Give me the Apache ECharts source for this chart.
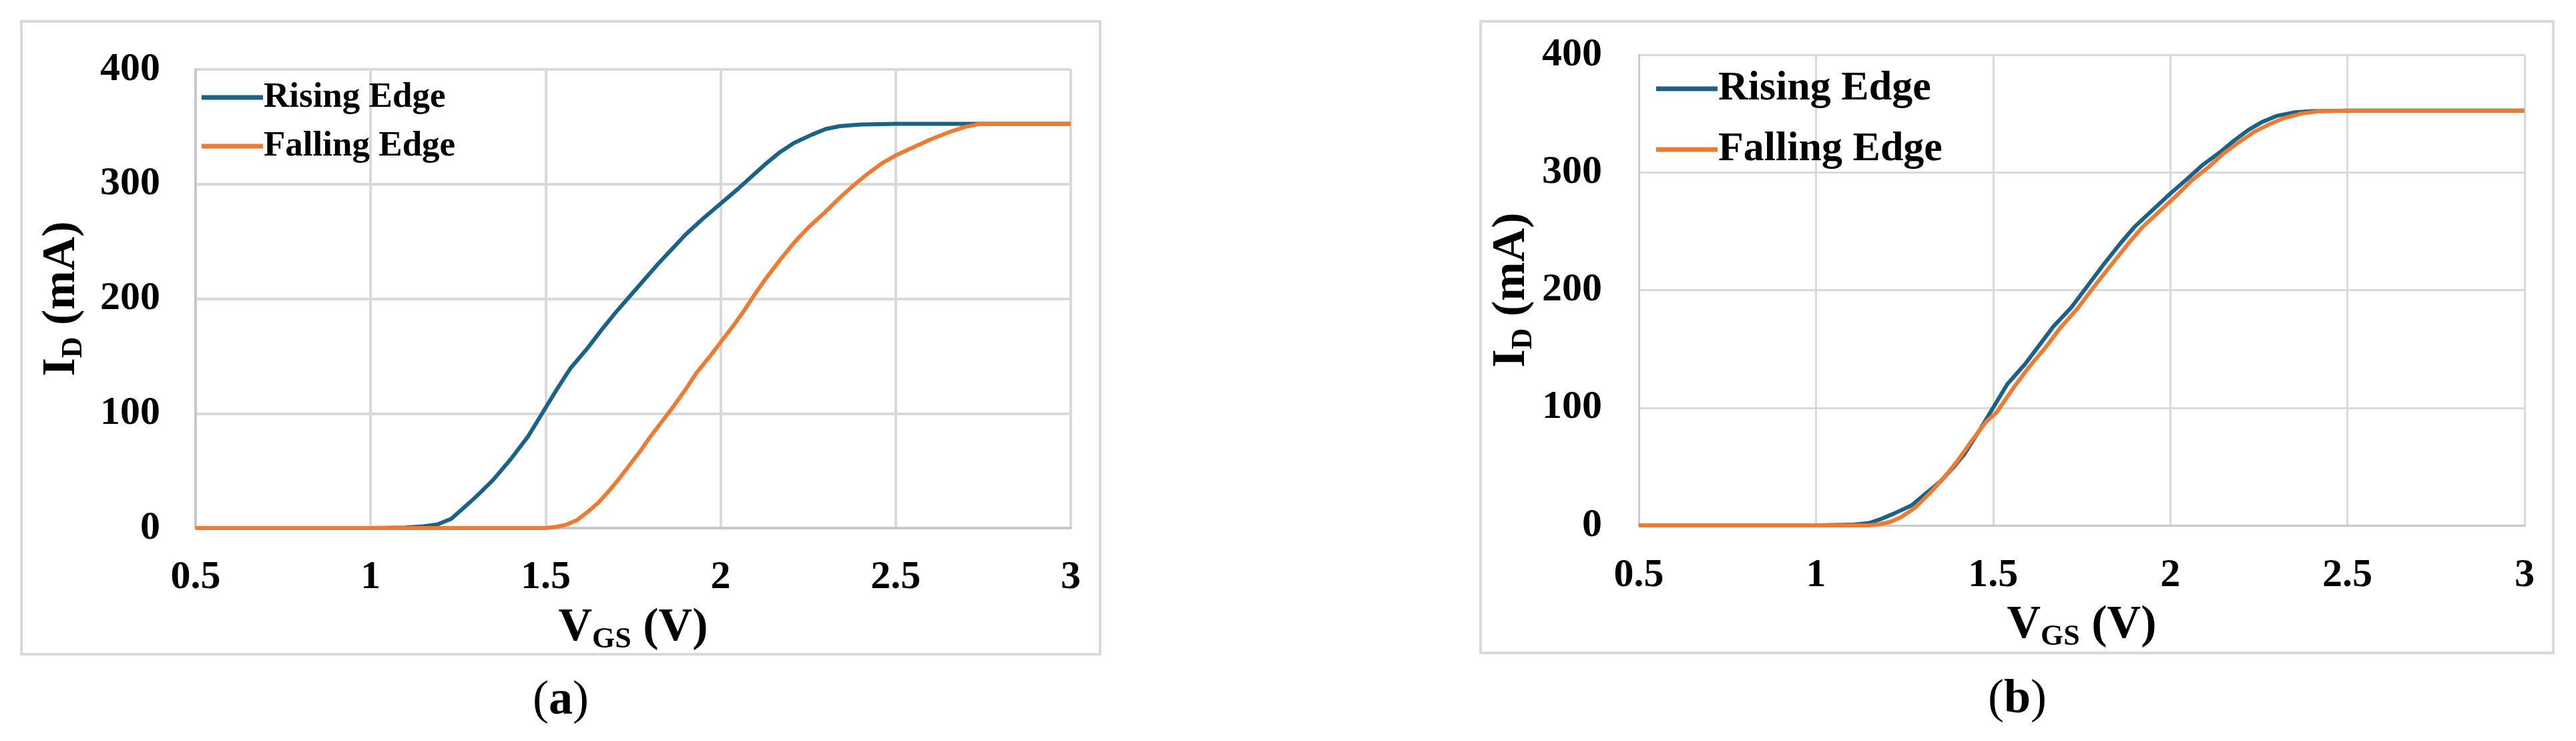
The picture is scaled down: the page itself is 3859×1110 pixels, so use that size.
<!DOCTYPE html>
<html>
<head>
<meta charset="utf-8">
<title>ID - VGS</title>
<script src="https://cdn.jsdelivr.net/npm/echarts@6/dist/echarts.min.js"></script>
<style>
html, body {margin: 0; padding: 0; background: #fff;}
#main {width: 3859px; height: 1110px;}
</style>
</head>
<body>
<div id="main"></div>
<script>
var seriesNames = ['Rising Edge', 'Falling Edge'];
var panelLabels = ['a', 'b'];

// (a) [VGS (V), ID (mA)]
var risingA = [[0.5,0],[0.8,0],[1.0,0],[1.1,0.5],[1.15,1.5],[1.19,3],[1.23,8],[1.26,16],[1.30,27],[1.35,42],[1.40,60],[1.45,80],[1.49,100],[1.53,120],[1.57,139],[1.62,157],[1.66,173],[1.70,188],[1.74,202],[1.78,216],[1.82,230],[1.86,243],[1.90,256],[1.95,270],[2.0,283],[2.05,296],[2.09,307],[2.13,318],[2.17,328],[2.21,336],[2.26,343],[2.30,348],[2.34,350.5],[2.40,352],[2.5,352.5],[2.7,352.5],[3.0,352.5]];
var fallingA = [[0.5,0],[1.0,0],[1.4,0],[1.5,0],[1.53,1],[1.56,3],[1.59,7],[1.62,14],[1.65,22],[1.68,32],[1.71,43],[1.74,55],[1.77,67],[1.80,80],[1.83,92],[1.86,104],[1.90,121],[1.93,135],[1.97,150],[2.0,162],[2.04,178],[2.07,191],[2.10,205],[2.13,218],[2.17,234],[2.21,249],[2.25,262],[2.30,276],[2.34,288],[2.38,299],[2.42,309],[2.46,318],[2.50,325],[2.55,332],[2.60,339],[2.65,345],[2.70,350],[2.74,352.5],[2.8,352.5],[3.0,352.5]];

// (b)
var risingB = [[0.5,0],[1.0,0],[1.1,0.5],[1.15,2],[1.18,5],[1.22,10],[1.27,17],[1.31,27],[1.35,37],[1.39,50],[1.42,61],[1.46,80],[1.50,100],[1.54,120],[1.59,137],[1.63,153],[1.67,169],[1.72,185],[1.76,201],[1.81,221],[1.86,240],[1.90,254],[1.95,268],[2.0,282],[2.05,295],[2.09,306],[2.14,317],[2.18,327],[2.22,336],[2.26,343],[2.30,348],[2.35,351],[2.40,352],[2.5,352.5],[3.0,352.5]];
var fallingB = [[0.5,0],[1.0,0],[1.15,0],[1.18,1],[1.21,3],[1.24,7],[1.28,15],[1.32,27],[1.36,40],[1.40,55],[1.44,72],[1.48,88],[1.51,96],[1.56,118],[1.60,134],[1.65,152],[1.69,168],[1.74,185],[1.78,201],[1.83,220],[1.88,239],[1.92,253],[1.97,267],[2.02,281],[2.06,293],[2.11,305],[2.15,316],[2.20,327],[2.24,335],[2.28,341],[2.32,346],[2.37,350],[2.42,352],[2.5,352.5],[3.0,352.5]];

var FONT = 'Liberation Serif';
var BLUE = '#1b6288';
var ORANGE = '#ed7b33';

var myChart = echarts.init(document.getElementById('main'));

// panel layout: outer frame, plot grid, legend
var panels = [
    {frame: [32, 32, 1616, 948], grid: [293, 104, 1311, 687], legend: [302, 116, 53, 60, 13],
     yGap: 160, xGap: 110, yMargin: 53, xMargin: 44, grid_w: 4, caption: [840, 1050],
     data: [risingA, fallingA]},
    {frame: [2218, 32, 1607, 946], grid: [2455, 82, 1327, 705], legend: [2481, 101, 62, 64, 27],
     yGap: 150, xGap: 110, yMargin: 55, xMargin: 45, grid_w: 3, caption: [3022, 1048],
     data: [risingB, fallingB]}
];

var nameRich = {
    m: {fontFamily: FONT, fontWeight: 'bold', fontSize: 70, lineHeight: 80, color: '#000'},
    s: {fontFamily: FONT, fontWeight: 'bold', fontSize: 44, lineHeight: 44, verticalAlign: 'bottom', color: '#000'}
};

var option = {
    backgroundColor: '#fff',
    animation: false,
    grid: [], xAxis: [], yAxis: [], series: [], legend: [], graphic: []
};

panels.forEach(function(p, i){
    option.graphic.push({
        type: 'rect', silent: true,
        shape: {x: p.frame[0], y: p.frame[1], width: p.frame[2], height: p.frame[3]},
        style: {fill: 'none', stroke: '#d9d9d9', lineWidth: 4}
    });
    option.graphic.push({
        type: 'text', silent: true, x: p.caption[0], y: p.caption[1],
        style: {
            text: '{p|(}{b|' + panelLabels[i] + '}{p|)}',
            align: 'center', verticalAlign: 'middle',
            rich: {
                p: {fontFamily: FONT, fontSize: 72, color: '#000'},
                b: {fontFamily: FONT, fontSize: 72, fontWeight: 'bold', color: '#000'}
            }
        }
    });

    option.grid.push({left: p.grid[0], top: p.grid[1], width: p.grid[2], height: p.grid[3], containLabel: false});

    option.xAxis.push({
        type: 'value', gridIndex: i, min: 0.5, max: 3, interval: 0.5,
        name: '{m|V}{s|GS}{m| (V)}', nameLocation: 'middle', nameGap: p.xGap,
        nameTextStyle: {rich: nameRich},
        axisLine: {show: true, onZero: false, lineStyle: {color: '#c8c8c8', width: p.grid_w}},
        axisTick: {show: false},
        axisLabel: {margin: p.xMargin, fontFamily: FONT, fontWeight: 'bold', fontSize: 60, color: '#000'},
        splitLine: {show: true, lineStyle: {color: '#d9d9d9', width: p.grid_w}}
    });
    option.yAxis.push({
        type: 'value', gridIndex: i, min: 0, max: 400, interval: 100,
        name: '{m|I}{s|D}{m| (mA)}', nameLocation: 'middle', nameGap: p.yGap,
        nameTextStyle: {rich: nameRich},
        axisLine: {show: true, lineStyle: {color: '#c8c8c8', width: p.grid_w}},
        axisTick: {show: false},
        axisLabel: {margin: p.yMargin, fontFamily: FONT, fontWeight: 'bold', fontSize: 60, color: '#000'},
        splitLine: {show: true, lineStyle: {color: '#d9d9d9', width: p.grid_w}}
    });

    [BLUE, ORANGE].forEach(function(c, k){
        option.series.push({
            name: seriesNames[k], type: 'line',
            xAxisIndex: i, yAxisIndex: i,
            data: p.data[k],
            symbol: 'none', smooth: false,
            itemStyle: {color: c},
            lineStyle: {color: c, width: 6}
        });
    });

    option.legend.push({
        data: seriesNames, orient: 'vertical',
        left: p.legend[0], top: p.legend[1], padding: 0,
        icon: 'rect', itemWidth: 92, itemHeight: 7, itemGap: p.legend[4],
        selectedMode: false,
        textStyle: {fontFamily: FONT, fontWeight: 'bold', fontSize: p.legend[2], lineHeight: p.legend[3], color: '#000', padding: [0, 0, 0, -4]}
    });
});

myChart.setOption(option);
</script>
</body>
</html>
